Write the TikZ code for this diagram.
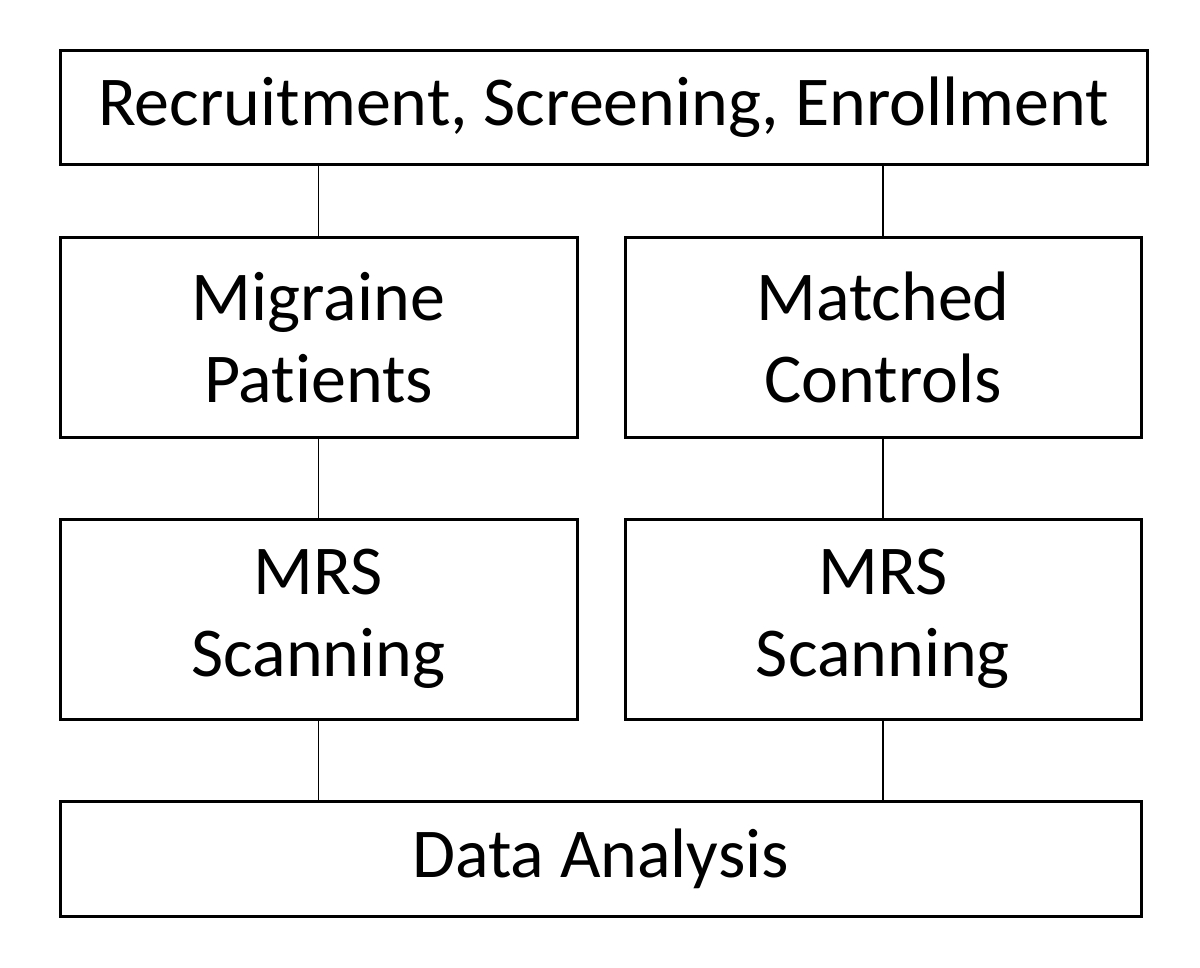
\documentclass[tikz,border=0pt]{standalone}
\usepackage{fontspec}
\setmainfont[Ligatures=NoCommon]{Carlito}
\begin{document}
\begin{tikzpicture}[x=1pt,y=-1pt,
  box/.style={draw=black, line width=3pt, fill=white, inner sep=0pt, align=center,
    font=\fontsize{70}{82}\selectfont},
  link/.style={draw=black, line width=1.8pt}]
\useasboundingbox (0,0) rectangle (1200,968);
\node[box, minimum width=1087pt, minimum height=114pt] (top) at (603.5,107.5) {Recruitment, Screening, Enrollment};
\node[box, minimum width=517pt, minimum height=199pt] (ml) at (318.5,337.5) {Migraine\\Patients};
\node[box, minimum width=516pt, minimum height=199pt] (mr) at (883,337.5) {Matched\\Controls};
\node[box, minimum width=517pt, minimum height=200pt] (sl) at (318.5,619) {MRS\\Scanning};
\node[box, minimum width=516pt, minimum height=200pt] (sr) at (883,619) {MRS\\Scanning};
\node[box, minimum width=1081pt, minimum height=115pt] (da) at (600.5,858.5) {Data Analysis};
\draw[link] (top.south -| ml.north) -- (ml.north);
\draw[link] (top.south -| mr.north) -- (mr.north);
\draw[link] (ml) -- (sl);
\draw[link] (mr) -- (sr);
\draw[link] (sl.south) -- (da.north -| sl.south);
\draw[link] (sr.south) -- (da.north -| sr.south);
\end{tikzpicture}
\end{document}
